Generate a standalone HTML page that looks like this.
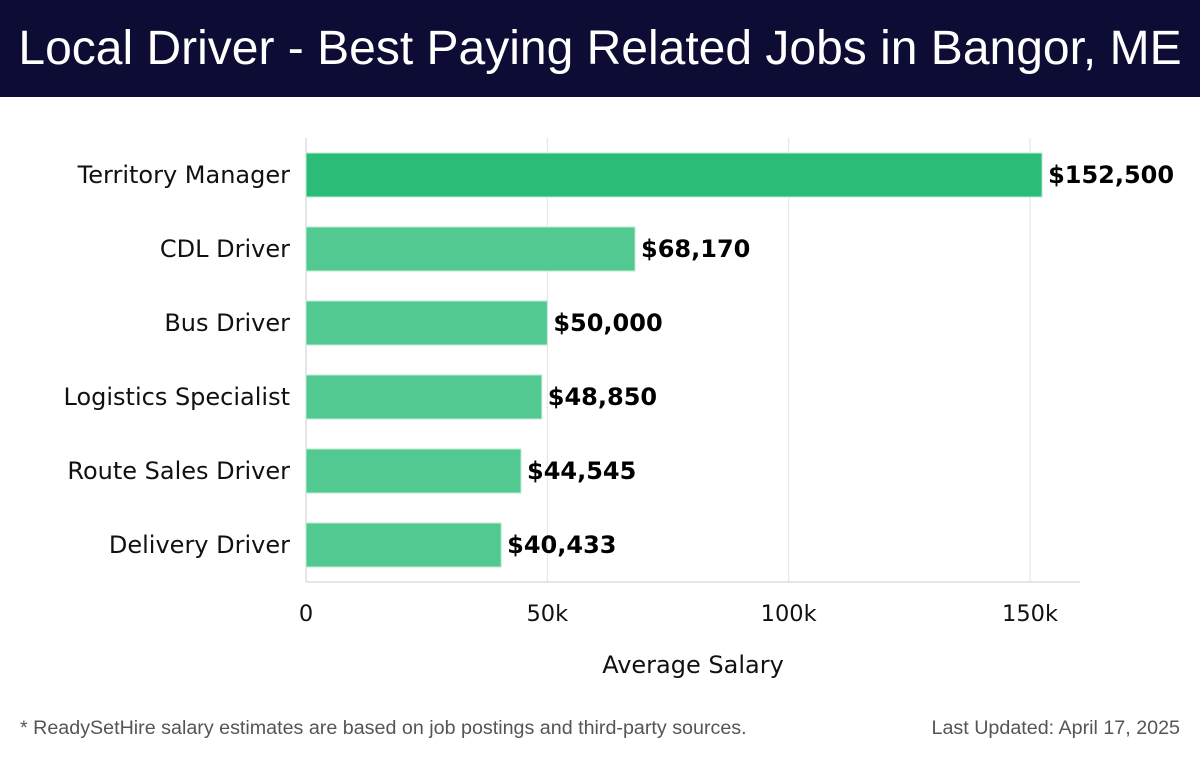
<!DOCTYPE html>
<html><head><meta charset="utf-8"><style>
body{margin:0;width:1200px;height:758px;background:#fff;overflow:hidden;font-family:"DejaVu Sans","Liberation Sans",sans-serif}
#title{position:absolute;left:0;top:0;width:1200px;height:97px;background:#0c0c35;color:#fff;font-family:"Liberation Sans",sans-serif;font-size:48px;line-height:97px;text-align:center;white-space:nowrap}
.foot{position:absolute;top:717px;font-family:"Liberation Sans",sans-serif;font-size:19.7px;color:#555;white-space:nowrap}
</style></head><body>
<div id="title">Local Driver - Best Paying Related Jobs in Bangor, ME</div>
<svg id="chart" width="1200" height="758" style="position:absolute;left:0;top:0"></svg>
<div class="foot" style="left:20px">* ReadySetHire salary estimates are based on job postings and third-party sources.</div>
<div class="foot" style="right:20px">Last Updated: April 17, 2025</div>
<script>
const categories=["Territory Manager","CDL Driver","Bus Driver","Logistics Specialist","Route Sales Driver","Delivery Driver"];
const salaries=[152500,68170,50000,48850,44545,40433];
const valueLabels=["$152,500","$68,170","$50,000","$48,850","$44,545","$40,433"];
const tickValues=[0,50000,100000,150000];
const tickLabels=["0","50k","100k","150k"];
const NS="http://www.w3.org/2000/svg";
const svg=document.getElementById('chart');
const x0=306,pxPer=(1030-306)/150000,plotTop=138,band=74,barH=44;
const xs=v=>x0+v*pxPer;
const yc=i=>plotTop+band*i+band/2;
function mk(t,a){const e=document.createElementNS(NS,t);for(const k in a)e.setAttribute(k,a[k]);svg.appendChild(e);return e;}
tickValues.forEach((v,i)=>{
 const g=mk('line',{x1:xs(v),x2:xs(v),y1:plotTop,y2:582,stroke:i==0?'#ccc':'#e3e3e3','stroke-width':1});
 
 
 const t=mk('text',{x:xs(v),y:621,'text-anchor':'middle','font-size':22.5,fill:'#111'});t.textContent=tickLabels[i];
 
 
});
const ax=mk('line',{x1:x0,x2:1080,y1:582,y2:582,stroke:'#ccc'});


categories.forEach((c,i)=>{
 const y=yc(i);
 const r=mk('rect',{x:x0,y:y-barH/2,width:xs(salaries[i])-x0,height:barH,fill:i==0?'#2bbd77':'#52c990',stroke:'#bfead3','stroke-width':1});
 
 
 const l=mk('text',{x:290,y:y+8,'text-anchor':'end','font-size':24,fill:'#111'});l.textContent=c;
 
 
 const v=mk('text',{x:xs(salaries[i])+6,y:y+8,'font-size':24,'font-weight':'bold',fill:'#000'});v.textContent=valueLabels[i];
 
 
});
const at=mk('text',{x:693,y:673,'text-anchor':'middle','font-size':24,fill:'#111'});at.textContent="Average Salary";


</script>
</body></html>
